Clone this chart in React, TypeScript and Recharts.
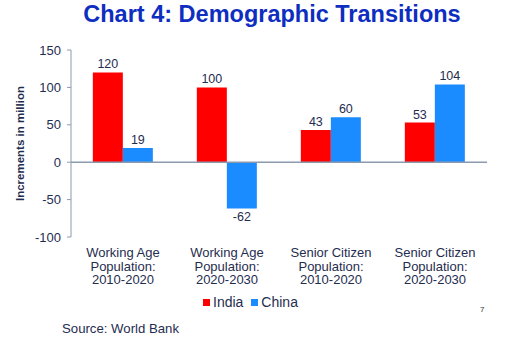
import React from "react";
import {
  BarChart,
  Bar,
  XAxis,
  YAxis,
  LabelList,
  ReferenceLine,
} from "recharts";

const categories = [
  "Working Age\nPopulation:\n2010-2020",
  "Working Age\nPopulation:\n2020-2030",
  "Senior Citizen\nPopulation:\n2010-2020",
  "Senior Citizen\nPopulation:\n2020-2030",
];
const india = [120, 100, 43, 53];
const china = [19, -62, 60, 104];
const yTicks = [-100, -50, 0, 50, 100, 150];

const series = [
  { key: "India", color: "#FF0000" },
  { key: "China", color: "#1A8CFF" },
];

const textColor = "#1F2D50";
const font = "'Liberation Sans', Arial, sans-serif";

const data = categories.map((name, i) => ({
  name,
  India: india[i],
  China: china[i],
}));

function MultiLineTick(props: any) {
  const { x, y, payload } = props;
  const lines = String(payload.value).split("\n");
  return (
    <text
      x={x}
      y={y}
      textAnchor="middle"
      fill={textColor}
      fontSize={13}
      fontFamily={font}
    >
      {lines.map((line, i) => (
        <tspan key={i} x={x} dy={i === 0 ? 12 : 13.5}>
          {line}
        </tspan>
      ))}
    </text>
  );
}

export default function App() {
  return (
    <div
      style={{
        position: "absolute",
        left: 0,
        top: 0,
        width: 511,
        height: 348,
        background: "#fff",
        fontFamily: font,
      }}
    >
      <div
        style={{
          position: "absolute",
          left: 0,
          width: 544,
          top: 1,
          textAlign: "center",
          fontSize: 23.5,
          fontWeight: "bold",
          color: "#0D2EC0",
        }}
      >
        Chart 4: Demographic Transitions
      </div>

      <BarChart
        width={511}
        height={348}
        data={data}
        margin={{ top: 50, right: 24, bottom: 61, left: 0 }}
        barGap={0}
        barCategoryGap="21%"
      >
        <XAxis
          dataKey="name"
          axisLine={false}
          tickLine={false}
          height={50}
          interval={0}
          tick={<MultiLineTick />}
        />
        <YAxis
          width={71}
          domain={[-100, 150]}
          ticks={yTicks}
          interval={0}
          axisLine={{ stroke: "#8C9AAE" }}
          tickLine={{ stroke: "#8C9AAE" }}
          tickSize={4}
          tickMargin={6}
          tick={{ fill: textColor, fontSize: 13, fontFamily: font }}
          label={{
            value: "Increments in million",
            angle: -90,
            position: "insideLeft",
            offset: 20,
            style: {
              textAnchor: "middle",
              fill: textColor,
              fontSize: 11.5,
              fontWeight: "bold",
              fontFamily: font,
            },
          }}
        />
        <ReferenceLine y={0} stroke="#8C9AAE" strokeWidth={1.5} />
        {series.map((s) => (
          <Bar
            key={s.key}
            dataKey={s.key}
            fill={s.color}
            isAnimationActive={false}
          >
            <LabelList
              dataKey={s.key}
              position="top"
              offset={4}
              fill={textColor}
              fontSize={12.5}
              fontFamily={font}
            />
          </Bar>
        ))}
      </BarChart>

      <div
        style={{
          position: "absolute",
          top: 294,
          left: 203,
          display: "flex",
          alignItems: "center",
          fontSize: 14,
          color: textColor,
        }}
      >
        {series.map((s) => (
          <div
            key={s.key}
            style={{ display: "flex", alignItems: "center", marginRight: 8 }}
          >
            <span
              style={{
                display: "inline-block",
                width: 7,
                height: 7,
                background: s.color,
                marginRight: 3,
              }}
            />
            {s.key}
          </div>
        ))}
      </div>

      <div
        style={{
          position: "absolute",
          top: 305,
          left: 480,
          fontSize: 8,
          color: "#333",
        }}
      >
        7
      </div>

      <div
        style={{
          position: "absolute",
          top: 321,
          left: 62,
          fontSize: 13.2,
          color: textColor,
        }}
      >
        Source: World Bank
      </div>
    </div>
  );
}
